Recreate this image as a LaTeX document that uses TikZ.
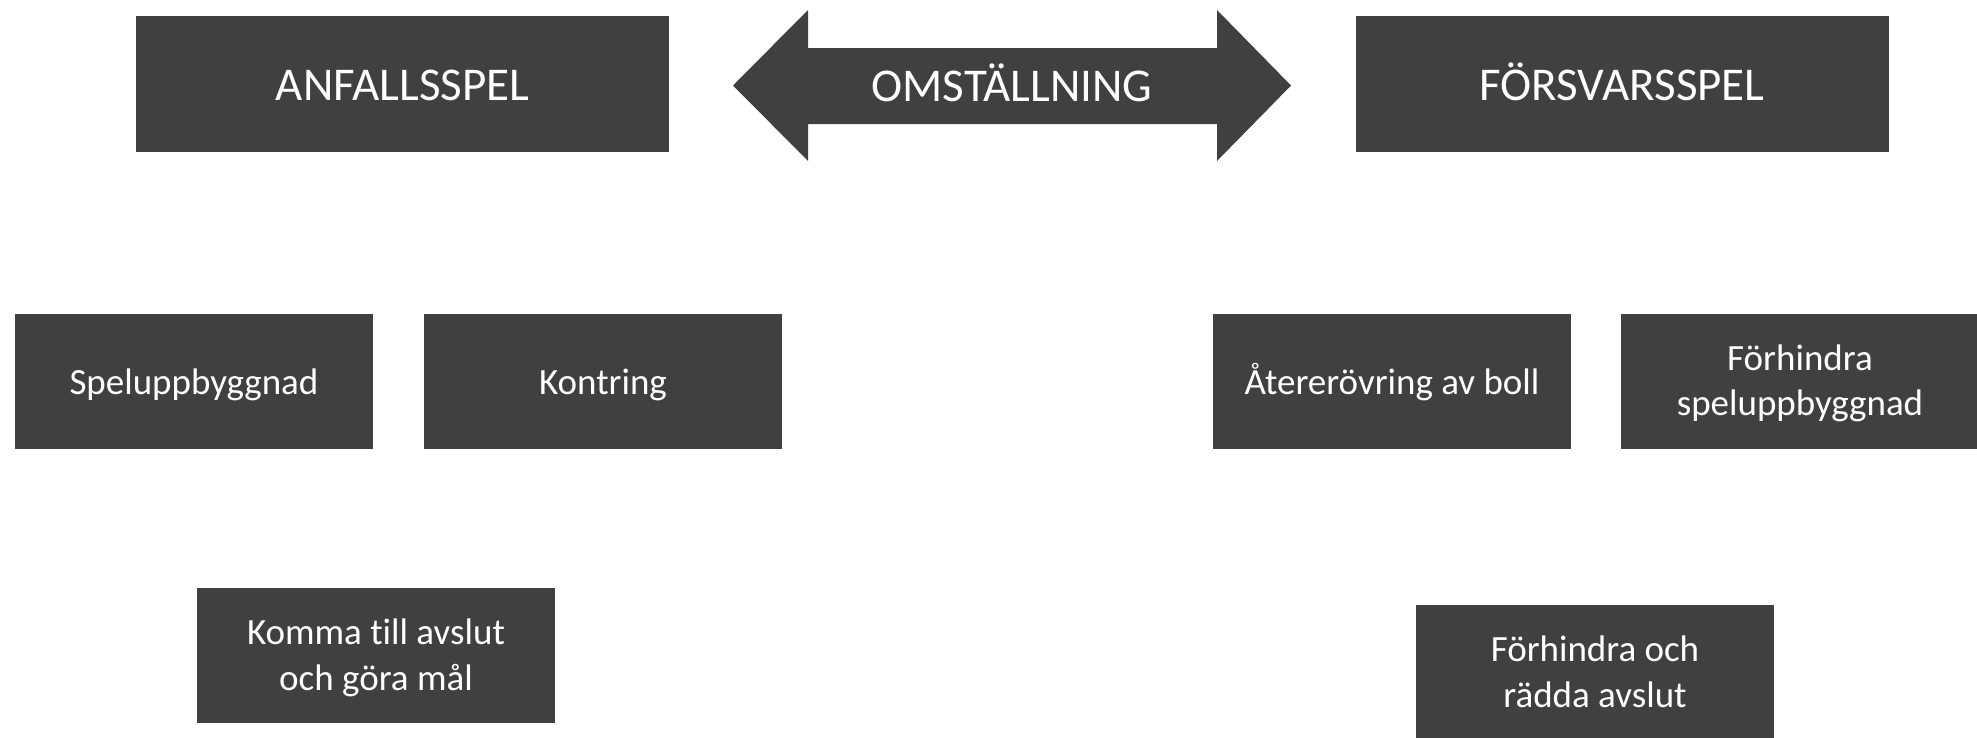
\documentclass[tikz,border=0pt]{standalone}
\usepackage{fontspec}
\setmainfont{Carlito}[Ligatures=NoCommon]
\definecolor{boxgray}{HTML}{404040}
\newcommand{\twoline}[2]{\begin{tabular}[t]{@{}c@{}}#1\\#2\end{tabular}}
\begin{document}
\begin{tikzpicture}[x=1pt,y=-1pt,
  box/.style={fill=boxgray,text=white,inner sep=0pt,
    minimum width=358pt,minimum height=135pt,font=\fontsize{37}{45.5}\selectfont,
    text height=40pt,text depth=13.4pt},
  twobox/.style={box,text height=10pt,text depth=32pt},
  bigbox/.style={box,minimum width=533pt,minimum height=136pt,font=\fontsize{47}{56}\selectfont,
    text height=45pt,text depth=11.6pt}]
\useasboundingbox (0,0) rectangle (1977,737);
\fill[white] (0,0) rectangle (1977,737);
% top row
\node[bigbox] (anf) at (402.5,84) {ANFALLSSPEL};
\node[bigbox] (fors) at (1622,84) {FÖRSVARSSPEL};
\fill[boxgray] (733,85.5) -- (808,10) -- (808,48) -- (1217,48) -- (1217,10)
  -- (1291,85.5) -- (1217,161) -- (1217,124) -- (808,124) -- (808,161) -- cycle;
\node[text=white,inner sep=0pt,font=\fontsize{47}{56}\selectfont,
  text height=45pt,text depth=14pt] (oms) at (1012,85.5) {OMSTÄLLNING};
% middle row
\node[box] (spel) at (194,381) {Speluppbyggnad};
\node[box] (kont) at (603,381) {Kontring};
\node[box] (ater) at (1392,381) {Återerövring av boll};
\node[twobox] (forh) at (1800,381) {\twoline{Förhindra}{speluppbyggnad}};
% bottom row
\node[twobox] (komma) at (376,655.7) {\twoline{Komma till avslut}{och göra mål}};
\node[twobox] (radda) at (1595,672.5) {\twoline{Förhindra och}{rädda avslut}};
\end{tikzpicture}
\end{document}
